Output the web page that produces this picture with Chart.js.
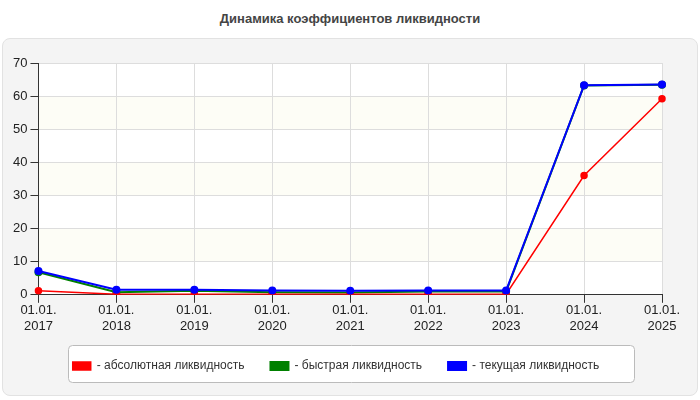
<!DOCTYPE html>
<html>
<head>
<meta charset="utf-8">
<script src="https://cdn.jsdelivr.net/npm/chart.js@4.4.0/dist/chart.umd.min.js"></script>
<style>
  body { margin: 0; background: #fff; font-family: "Liberation Sans", Arial, sans-serif; }
  #title { position: absolute; left: 0; top: 11px; width: 700px; text-align: center; font-size: 13px; font-weight: bold; color: #444; }
  #panel { position: absolute; left: 2px; top: 38px; width: 694px; height: 356px; background: #f4f4f4; border: 1px solid #e2e2e2; border-radius: 8px; }
  #wrap { position: absolute; left: 0; top: 40px; width: 700px; height: 354px; }
</style>
</head>
<body>
<div id="title">Динамика коэффициентов ликвидности</div>
<div id="panel"></div>
<div id="wrap"><canvas id="c"></canvas></div>
<script>
const years = ['2017', '2018', '2019', '2020', '2021', '2022', '2023', '2024', '2025'];
const absolute = [1.2, 0.2, 0.2, 0.2, 0.2, 0.2, 0.2, 36, 59.2];
const quick = [6.8, 0.8, 1.2, 0.8, 0.7, 1.0, 1.0, 63.2, 63.4];
const current = [7.2, 1.5, 1.5, 1.3, 1.2, 1.3, 1.3, 63.3, 63.5];

// фон области графика и рамка легенды
const decor = {
  id: 'decor',
  beforeDraw(chart) {
    const { ctx, chartArea: a, scales: { y } } = chart;
    ctx.save();
    ctx.fillStyle = '#ffffff';
    ctx.fillRect(a.left, a.top, a.right - a.left, a.bottom - a.top);
    for (let v = 0; v < 70; v += 10) {
      if ((v / 10) % 2 === 1) {
        ctx.fillStyle = '#fdfdf6';
        ctx.fillRect(a.left, y.getPixelForValue(v + 10), a.right - a.left, y.getPixelForValue(v) - y.getPixelForValue(v + 10));
      }
    }
    ctx.fillStyle = '#ffffff';
    ctx.strokeStyle = '#bbbbbb';
    ctx.lineWidth = 1;
    ctx.beginPath();
    ctx.roundRect(68.5, 305.5, 566, 37, 4);
    ctx.fill();
    ctx.stroke();
    ctx.restore();
  }
};

new Chart(document.getElementById('c'), {
  type: 'line',
  data: {
    labels: years.map((y) => ['01.01.', y]),
    datasets: [
      { label: '- абсолютная ликвидность', data: absolute, borderColor: '#ff0000', backgroundColor: '#ff0000', borderWidth: 1.5, order: 1 },
      { label: '- быстрая ликвидность', data: quick, borderColor: '#008000', backgroundColor: '#008000', borderWidth: 2, order: 2 },
      { label: '- текущая ликвидность', data: current, borderColor: '#0000ff', backgroundColor: '#0000ff', borderWidth: 2, order: 0 },
    ],
  },
  options: {
    responsive: true,
    maintainAspectRatio: false,
    animation: false,
    layout: { padding: { left: 10, right: 38, top: 23, bottom: 12 } },
    elements: { point: { radius: 3, hoverRadius: 3 }, line: { tension: 0 } },
    scales: {
      x: {
        grid: { color: '#dddddd', drawTicks: true, tickColor: '#333' },
        border: { color: '#333' },
        ticks: { color: '#222', font: { family: 'Liberation Sans', size: 13 }, maxRotation: 0, padding: 0 },
      },
      y: {
        min: 0, max: 70,
        grid: { color: '#dddddd', tickColor: '#333' },
        border: { color: '#333' },
        ticks: { stepSize: 10, color: '#222', font: { family: 'Liberation Sans', size: 13 }, padding: 3 },
      },
    },
    plugins: {
      legend: {
        position: 'bottom',
        labels: {
          boxWidth: 18, boxHeight: 8, padding: 26, color: '#333',
          font: { family: 'Liberation Sans', size: 12 },
          sort: (a, b) => a.datasetIndex - b.datasetIndex,
        },
      },
      tooltip: { enabled: false },
    },
  },
  plugins: [decor],
});
</script>
</body>
</html>
